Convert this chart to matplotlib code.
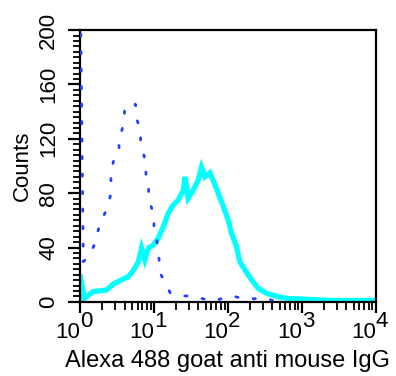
import numpy as np
import matplotlib
matplotlib.use("Agg")
import matplotlib.pyplot as plt
import matplotlib.transforms as mtransforms
from matplotlib.ticker import FixedLocator, LogLocator, NullFormatter

plt.rcParams['font.family'] = ['Liberation Sans', 'DejaVu Sans']

# isotype control (dotted blue)
ctrl_x = [1.0, 1.11, 1.34, 1.58, 1.71, 1.86, 2.20, 2.41, 2.62, 2.62, 2.62, 2.85,
          3.37, 3.37, 3.66, 3.97, 4.0, 5.2, 5.59, 5.9, 5.9, 6.6, 6.6, 7.17, 7.8,
          7.8, 8.48, 8.48, 9.2, 10.0, 10.0, 10.9, 11.8, 11.8, 14.1, 16.6, 23.2,
          32.4, 45.6, 64.0, 81.8, 115, 161, 227, 316, 455]
ctrl_y = [250, 29.6, 34.5, 42.4, 50.0, 57.8, 65.9, 71.8, 79.9, 88.0, 95.8, 103.9,
          109.7, 117.6, 125.7, 133.5, 141.6, 141.6, 145.5, 141.0, 134.0, 125.7,
          117.6, 109.7, 102.0, 93.9, 86.0, 77.9, 70.0, 62.3, 54.2, 46.3, 30.1,
          22.3, 14.5, 6.6, 4.4, 4.4, 2.4, 0.5, 2.4, 4.4, 2.4, 2.4, 2.7, 0.2]

# stained sample (cyan)
stain_x = [1.0, 1.0, 1.15, 1.51, 2.29, 2.82, 3.66, 4.5, 5.25, 6.16, 6.8, 7.55,
           8.4, 9.8, 11.4, 13.4, 15.6, 18.2, 21.3, 25.0, 26.3, 29.0, 32.2, 35.8,
           39.7, 44.0, 48.9, 57.0, 63.0, 74.0, 86.8, 101, 112, 131, 145, 170,
           209, 257, 332, 500, 690, 1150, 2600, 9100, 10000]
stain_y = [0, 20, 2.7, 7.6, 8.8, 13.2, 16.2, 18.6, 23.0, 29.6, 39.5, 30.9,
           39.5, 41.9, 46.8, 55.4, 65.2, 71.3, 75.0, 82.3, 92.0, 76.2, 80.0,
           84.7, 89.7, 99.0, 92.0, 95.0, 89.7, 80.0, 70.0, 60.3, 50.5, 40.6,
           29.6, 23.5, 16.2, 10.0, 6.4, 3.5, 2.4, 2.0, 1.0, 1.0, 1.0]

y_ticks = [0, 40, 80, 120, 160, 200]
decades = [0, 1, 2, 3, 4]

fig = plt.figure(figsize=(3.96, 3.76), dpi=100)
ax = fig.add_axes([0.202, 0.197, 0.747, 0.723])

ax.plot(stain_x, stain_y, color='#00ffff', lw=3.8, solid_joinstyle='miter',
        zorder=2)
ax.plot(ctrl_x, ctrl_y, color='#2040ff', lw=2.0, linestyle=(0, (0.8, 5.5)),
        dash_capstyle='round', zorder=3)

ax.set_xscale('log')
ax.set_xlim(1, 1e4)
ax.set_ylim(0, 200)

for s in ax.spines.values():
    s.set_linewidth(1.6)
    s.set_color('black')

ax.yaxis.set_major_locator(FixedLocator(y_ticks))
ax.yaxis.set_minor_locator(FixedLocator(np.arange(0, 201, 4)))
ax.set_yticklabels([str(v) for v in y_ticks], rotation=90, va='center',
                   fontsize=16)
ax.tick_params(axis='y', which='major', length=9, width=1.6, pad=6)
ax.tick_params(axis='y', which='minor', length=5, width=1.3)

ax.xaxis.set_major_locator(LogLocator(base=10, numticks=10))
ax.xaxis.set_minor_locator(LogLocator(base=10, subs=np.arange(2, 10), numticks=10))
ax.xaxis.set_major_formatter(NullFormatter())
ax.xaxis.set_minor_formatter(NullFormatter())
ax.tick_params(axis='x', which='major', length=8, width=1.6)
ax.tick_params(axis='x', which='minor', length=6, width=1.3)

trans = mtransforms.blended_transform_factory(ax.transData, ax.transAxes)
for d in decades:
    ax.text(10 ** d, -0.075, '10', transform=trans, ha='right', va='top',
            fontsize=16)
    ax.text(10 ** d, -0.035, str(d), transform=trans, ha='left', va='top',
            fontsize=16)

ax.set_xlabel('Alexa 488 goat anti mouse IgG', fontsize=17, labelpad=23)
ax.set_ylabel('Counts', fontsize=16, labelpad=4)

fig.savefig('out.png', dpi=100)
